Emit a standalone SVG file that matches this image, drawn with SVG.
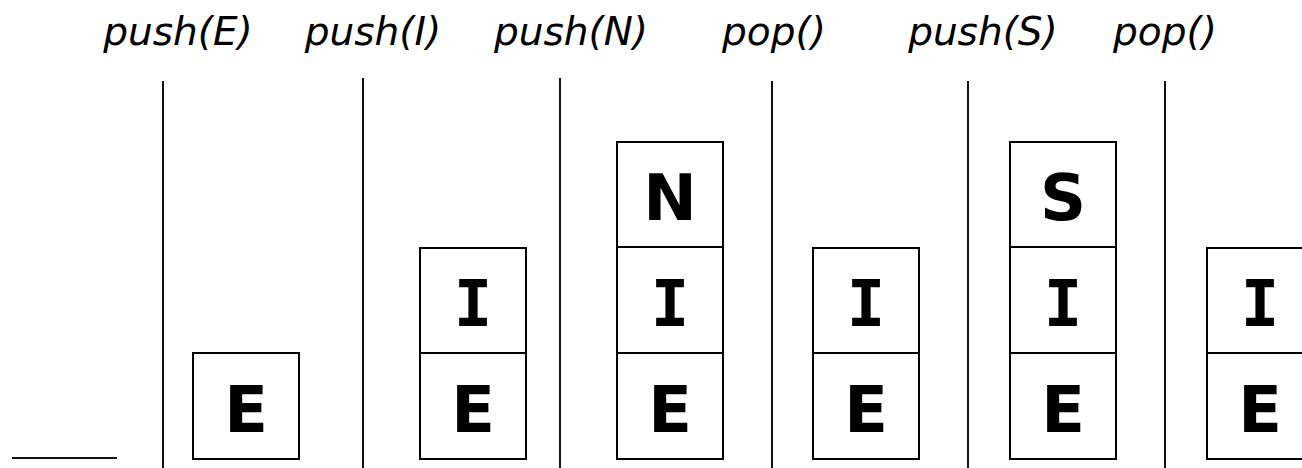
<svg xmlns="http://www.w3.org/2000/svg" width="1302" height="468" viewBox="0 0 1302 468">
<style>
.op{font-family:"DejaVu Sans",Verdana,sans-serif;font-style:italic;font-size:39px;fill:#000;text-anchor:middle}
.cell{fill:#fff;stroke:#000;stroke-width:2}
.ch{font-family:"DejaVu Sans",Verdana,sans-serif;font-weight:bold;font-size:64px;fill:#000;text-anchor:middle}
.ch.i{font-family:"DejaVu Sans Mono",monospace}
.sep{stroke:#111;stroke-width:2}
</style>
<rect width="1302" height="468" fill="#fff"/>
<g id="labels">
<text class="op" x="178" y="45">push(E)</text>
<text class="op" x="373" y="45">push(I)</text>
<text class="op" x="571" y="45">push(N)</text>
<text class="op" x="774" y="45">pop()</text>
<text class="op" x="983" y="45">push(S)</text>
<text class="op" x="1165" y="45">pop()</text>
</g>
<g id="separators">
<line class="sep" x1="12" y1="458" x2="117" y2="458"/>
<line class="sep" x1="163" y1="81" x2="163" y2="468"/>
<line class="sep" x1="363" y1="78" x2="363" y2="468"/>
<line class="sep" x1="560" y1="78" x2="560" y2="468"/>
<line class="sep" x1="772" y1="81" x2="772" y2="468"/>
<line class="sep" x1="968" y1="81" x2="968" y2="468"/>
<line class="sep" x1="1165" y1="81" x2="1165" y2="468"/>
</g>
<g id="stack1">
<rect class="cell" x="193" y="353" width="106" height="106"/><text class="ch" x="246" y="432">E</text>
</g>
<g id="stack2">
<rect class="cell" x="420" y="353" width="106" height="106"/><text class="ch" x="473" y="432">E</text>
<rect class="cell" x="420" y="248" width="106" height="105"/><text class="ch i" x="473" y="326">I</text>
</g>
<g id="stack3">
<rect class="cell" x="617" y="353" width="106" height="106"/><text class="ch" x="670" y="432">E</text>
<rect class="cell" x="617" y="247" width="106" height="106"/><text class="ch i" x="670" y="326">I</text>
<rect class="cell" x="617" y="142" width="106" height="105"/><text class="ch" x="670" y="220">N</text>
</g>
<g id="stack4">
<rect class="cell" x="813" y="353" width="106" height="106"/><text class="ch" x="866" y="432">E</text>
<rect class="cell" x="813" y="248" width="106" height="105"/><text class="ch i" x="866" y="326">I</text>
</g>
<g id="stack5">
<rect class="cell" x="1010" y="353" width="106" height="106"/><text class="ch" x="1063" y="432">E</text>
<rect class="cell" x="1010" y="247" width="106" height="106"/><text class="ch i" x="1063" y="326">I</text>
<rect class="cell" x="1010" y="142" width="106" height="105"/><text class="ch" x="1063" y="220">S</text>
</g>
<g id="stack6">
<rect class="cell" x="1207" y="353" width="106" height="106"/><text class="ch" x="1260" y="432">E</text>
<rect class="cell" x="1207" y="248" width="106" height="105"/><text class="ch i" x="1260" y="326">I</text>
</g>
</svg>
